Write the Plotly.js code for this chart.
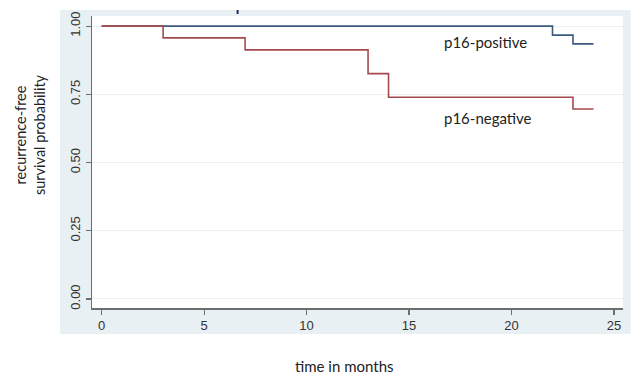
<!DOCTYPE html>
<html>
<head>
<meta charset="utf-8">
<script src="https://cdn.plot.ly/plotly-3.0.1.min.js"></script>
<style>html,body{margin:0;padding:0;background:#fff;}#chart{width:631px;height:377px;}</style>
</head>
<body>
<div id="chart"></div>
<script>
// p16-positive Kaplan-Meier steps
const posTime = [0, 22, 23, 24];
const posSurv = [1.0, 0.967, 0.935, 0.935];
// p16-negative Kaplan-Meier steps
const negTime = [0, 3, 7, 13, 14, 23, 24];
const negSurv = [1.0, 0.957, 0.913, 0.826, 0.739, 0.696, 0.696];
const xTicks = [0, 5, 10, 15, 20, 25];
const yTicks = [0, 0.25, 0.5, 0.75, 1.0];
const yTickText = ['0.00', '0.25', '0.50', '0.75', '1.00'];

const traces = [
  {x: posTime, y: posSurv, mode: 'lines', line: {shape: 'hv', color: '#3d5a7f', width: 1.6}, name: 'p16-positive', hoverinfo: 'skip'},
  {x: negTime, y: negSurv, mode: 'lines', line: {shape: 'hv', color: '#a44a4e', width: 1.6}, name: 'p16-negative', hoverinfo: 'skip'}
];

const W = 531.3, H = 292;
const layout = {
  width: 631, height: 377,
  margin: {l: 92, r: 8, t: 16, b: 69},
  paper_bgcolor: '#ffffff', plot_bgcolor: '#ffffff',
  showlegend: false,
  xaxis: {
    range: [-0.47, 25.44], tickvals: xTicks, ticktext: xTicks.map(String),
    showgrid: false, zeroline: false, showline: true, linecolor: '#6e6e6e', linewidth: 1.5,
    ticks: 'outside', ticklen: 5, tickcolor: '#6e6e6e', tickwidth: 1.2,
    tickfont: {family: 'Liberation Sans, Arial, sans-serif', size: 13, color: '#333'}
  },
  yaxis: {
    range: [-0.033, 1.037], tickvals: yTicks, ticktext: yTickText, tickangle: -90,
    showgrid: true, gridcolor: '#e8f0f2', gridwidth: 1, zeroline: false,
    showline: true, linecolor: '#6e6e6e', linewidth: 1.5,
    ticks: 'outside', ticklen: 5, tickcolor: '#6e6e6e', tickwidth: 1.2,
    tickfont: {family: 'Liberation Sans, Arial, sans-serif', size: 13, color: '#333'}
  },
  shapes: [
    {type: 'rect', xref: 'paper', yref: 'paper', x0: (60-92)/W, x1: (631-92)/W, y0: (308-334)/H, y1: (308-10)/H,
     fillcolor: '#e9f0f3', line: {width: 0}, layer: 'below'},
    {type: 'rect', xref: 'paper', yref: 'paper', x0: 0, x1: 1, y0: 0, y1: 1,
     fillcolor: '#ffffff', line: {width: 0}, layer: 'below'},
    {type: 'line', xref: 'paper', yref: 'paper', x0: (237.7-92)/W, x1: (237.7-92)/W, y0: (308-14)/H, y1: (308-10)/H,
     line: {color: '#1f2f55', width: 2}}
  ],
  annotations: [
    {x: 16.63, y: 0.941, xref: 'x', yref: 'y', text: 'p16-positive', showarrow: false, xanchor: 'left', yanchor: 'middle',
     font: {family: 'Lato, Open Sans, sans-serif', size: 15, color: '#222'}},
    {x: 16.63, y: 0.663, xref: 'x', yref: 'y', text: 'p16-negative', showarrow: false, xanchor: 'left', yanchor: 'middle',
     font: {family: 'Lato, Open Sans, sans-serif', size: 15, color: '#222'}},
    {x: (30-92)/W, y: (308-135)/H, xref: 'paper', yref: 'paper', text: 'recurrence-free<br>survival probability',
     textangle: -90, showarrow: false, xanchor: 'center', yanchor: 'middle',
     font: {family: 'Lato, Open Sans, sans-serif', size: 14.5, color: '#222'}},
    {x: (345-92)/W, y: (308-366)/H, xref: 'paper', yref: 'paper', text: 'time in months',
     showarrow: false, xanchor: 'center', yanchor: 'middle',
     font: {family: 'Lato, Open Sans, sans-serif', size: 15, color: '#222'}}
  ]
};

Plotly.newPlot('chart', traces, layout, {displayModeBar: false, staticPlot: true});
</script>
</body>
</html>
